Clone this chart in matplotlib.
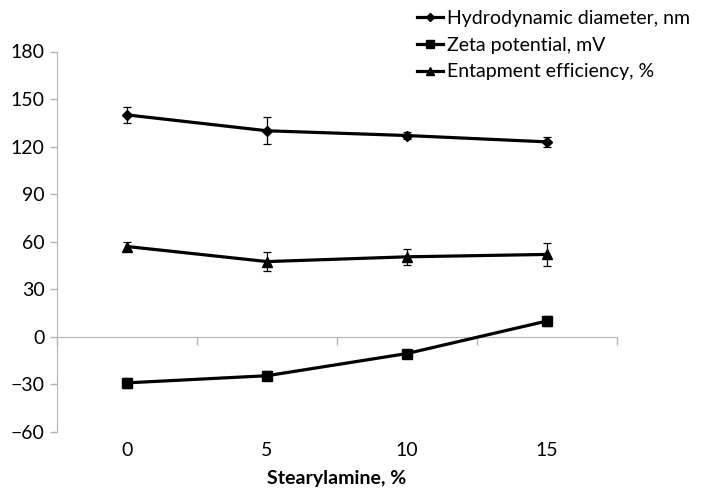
import numpy as np
import matplotlib
matplotlib.use('Agg')
import matplotlib.pyplot as plt

plt.rcParams['font.family'] = ['Lato', 'DejaVu Sans']

categories = ['0', '5', '10', '15']

hydro = [140, 130, 127, 123]
hydro_err = [5, 8.5, 2.5, 3]

zeta = [-29, -24.5, -10.5, 10]
zeta_err = [3, 3, 1.5, 3]

entrap = [57, 47.5, 50.5, 52]
entrap_err = [3, 6, 5, 7.5]

yticks = [-60, -30, 0, 30, 60, 90, 120, 150, 180]

fig = plt.figure(figsize=(7.14, 5.0), dpi=100)
ax = fig.add_axes([0.080, 0.136, 0.784, 0.761])

x = np.arange(len(categories))
gray = '#b5b5b5'
fs = 14

series = [
    (hydro, hydro_err, 'D', 5.5, 'Hydrodynamic diameter, nm'),
    (zeta, zeta_err, 's', 7, 'Zeta potential, mV'),
    (entrap, entrap_err, '^', 7, 'Entapment efficiency, %'),
]
handles = []
for vals, err, mk, ms, label in series:
    ax.errorbar(x, vals, yerr=err, fmt='none', ecolor='black',
                elinewidth=0.9, capsize=3, capthick=0.9, zorder=2)
    h, = ax.plot(x, vals, color='black', lw=2.3, marker=mk, ms=ms,
                 label=label, zorder=3)
    handles.append(h)

ax.set_xlim(-0.5, len(categories) - 0.5)
ax.set_ylim(-60, 180)
ax.set_yticks(yticks)
ax.tick_params(axis='y', labelsize=fs, length=5, color=gray, width=1, pad=4)

# horizontal axis crosses at zero, ticks between categories
for s in ['top', 'right']:
    ax.spines[s].set_visible(False)
ax.spines['left'].set_color(gray)
ax.spines['bottom'].set_color(gray)
ax.spines['bottom'].set_position(('data', 0))
ax.set_xticks(np.arange(len(categories) + 1) - 0.5)
ax.set_xticklabels([])
ax.tick_params(axis='x', length=6, color=gray, width=1, direction='out')

for xi, lab in zip(x, categories):
    ax.text(xi, -0.025, lab, transform=ax.get_xaxis_transform(),
            ha='center', va='top', fontsize=fs)
ax.text(0.5, -0.10, 'Stearylamine, %', transform=ax.transAxes,
        ha='center', va='top', fontsize=fs, fontweight='bold')

fig.legend(handles=handles, loc='upper left', bbox_to_anchor=(0.56, 1.015),
           frameon=False, fontsize=fs, handlelength=1.3, handletextpad=0.2,
           labelspacing=0.5, markerscale=0.75)

fig.savefig('out.png', dpi=100)
